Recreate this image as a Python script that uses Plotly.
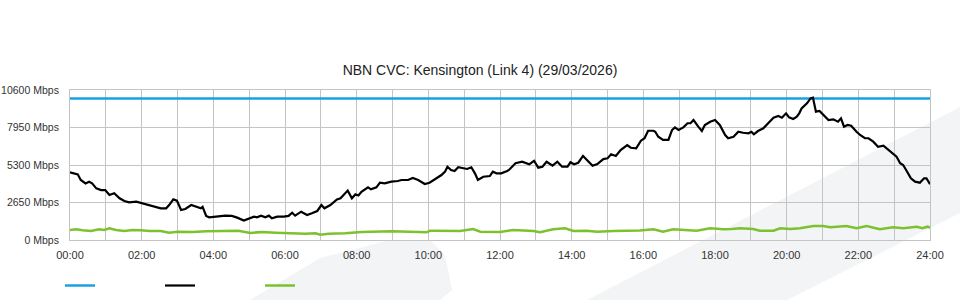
import plotly.graph_objects as go

# ---- data (minutes of day, Mbps) ----
capacity_t = [0, 1440]
capacity_v = [10000, 10000]

down_t = [0, 13, 18, 26, 32, 37, 44, 52, 59, 66, 74, 83, 91, 99, 111, 122, 133, 144, 152, 161,
          166, 173, 179, 186, 193, 203, 211, 219, 222, 228, 233, 243, 249, 260, 271, 280, 291, 299,
          308, 313, 320, 327, 333, 338, 347, 358, 366, 372, 377, 387, 397, 405, 414, 421, 426, 436,
          447, 453, 458, 465, 472, 478, 483, 488, 499, 504, 513, 519, 527, 538, 549, 555, 566, 574,
          583, 594, 602, 613, 622, 628, 632, 638, 644, 650, 658, 665, 672, 678, 683, 692, 703, 708,
          714, 722, 732, 735, 746, 757, 769, 777, 784, 791, 798, 808, 816, 824, 833, 838, 844, 851,
          859, 866, 875, 883, 893, 900, 906, 914, 922, 933, 939, 948, 956, 962, 968, 977, 980, 985,
          993, 1002, 1008, 1013, 1019, 1027, 1034, 1039, 1044, 1052, 1058, 1063, 1072, 1080, 1088,
          1097, 1102, 1111, 1119, 1127, 1136, 1141, 1145, 1152, 1161, 1169, 1178, 1186, 1192, 1199,
          1204, 1211, 1217, 1221, 1225, 1234, 1240, 1244, 1249, 1255, 1262, 1270, 1278, 1286, 1291,
          1296, 1302, 1308, 1317, 1323, 1331, 1337, 1345, 1353, 1362, 1370, 1378, 1384, 1390, 1395,
          1401, 1408, 1415, 1423, 1430, 1434, 1440]
down_v = [4780, 4640, 4240, 4000, 4120, 4000, 3650, 3530, 3530, 3180, 3300, 2950, 2760, 2660, 2710,
          2590, 2470, 2350, 2240, 2240, 2470, 2870, 2780, 2120, 2190, 2470, 2350, 2240, 2350, 1700,
          1600, 1650, 1700, 1720, 1700, 1580, 1370, 1480, 1650, 1600, 1720, 1600, 1720, 1530, 1650,
          1650, 1700, 1930, 1720, 2000, 1770, 1890, 2050, 2470, 2240, 2470, 2870, 2950, 3180, 3490,
          2950, 3230, 3150, 3410, 3720, 3580, 3720, 4050, 4000, 4120, 4170, 4240, 4240, 4380, 4240,
          3960, 4050, 4360, 4590, 4830, 5180, 4950, 4880, 5140, 5070, 5020, 5140, 4710, 4240, 4470,
          4520, 4830, 4710, 4710, 4880, 4950, 5420, 5530, 5350, 5600, 5110, 5180, 5530, 5250, 5530,
          5180, 5180, 5490, 5350, 5460, 5940, 5650, 5250, 5370, 5720, 5770, 6060, 5940, 6360, 6710,
          6520, 6480, 7020, 7190, 7720, 7720, 7650, 7300, 7070, 7070, 7770, 7960, 7770, 7960, 8250,
          8250, 8480, 8010, 7700, 8130, 8360, 8480, 8130, 7420, 7190, 7300, 7650, 7580, 7540, 7650,
          7470, 7700, 7890, 8250, 8640, 8760, 8640, 8950, 8670, 8550, 8710, 8950, 9300, 9660, 10010,
          10060, 9070, 9120, 8830, 8480, 8530, 8360, 8600, 8010, 8130, 8080, 7650, 7420, 7190, 7190,
          6950, 6590, 6660, 6360, 6060, 5890, 5420, 5300, 4880, 4360, 4120, 4050, 4360, 4360, 3940]

up_t = [0, 10, 21, 35, 49, 57, 66, 77, 91, 105, 119, 133, 152, 166, 180, 205, 228, 243, 260, 282,
        302, 321, 344, 372, 394, 411, 419, 433, 461, 488, 530, 539, 597, 603, 653, 675, 687, 720,
        742, 776, 787, 809, 829, 843, 865, 882, 910, 932, 954, 977, 993, 1010, 1033, 1049, 1072,
        1094, 1108, 1122, 1144, 1155, 1178, 1189, 1206, 1222, 1245, 1261, 1273, 1300, 1317, 1334,
        1356, 1378, 1395, 1418, 1427, 1436, 1440]
up_v = [707, 756, 685, 636, 756, 707, 827, 707, 636, 707, 685, 636, 636, 516, 587, 565, 615, 636,
        636, 657, 500, 565, 516, 473, 440, 473, 380, 440, 473, 565, 565, 615, 540, 657, 636, 777,
        587, 565, 707, 636, 544, 756, 827, 636, 657, 587, 636, 636, 670, 756, 587, 756, 707, 657,
        827, 756, 777, 827, 777, 657, 657, 827, 777, 827, 989, 989, 898, 989, 827, 989, 756, 898,
        827, 940, 827, 940, 869]

x_tickvals = list(range(0, 1441, 120))
x_ticktext = ["%02d:00" % (v // 60) for v in x_tickvals]
y_tickvals = [0, 2650, 5300, 7950, 10600]
y_ticktext = ["%d Mbps" % v for v in y_tickvals]

title_text = "NBN CVC: Kensington (Link 4) (29/03/2026)"

# ---- figure ----
W, H = 960, 300
L, R, T, B = 70, 30, 90, 60
pw, ph = W - L - R, H - T - B


def px(xp, yp):
    return (xp - L) / pw, (H - B - yp) / ph


def poly(points):
    pts = [px(a, b) for a, b in points]
    return "M " + " L ".join("%.4f,%.4f" % p for p in pts) + " Z"


fig = go.Figure()
fig.add_trace(go.Scatter(x=capacity_t, y=capacity_v, mode="lines", name="",
                         line=dict(color="#1ba1e2", width=2.5)))
fig.add_trace(go.Scatter(x=down_t, y=down_v, mode="lines", name="",
                         line=dict(color="#000000", width=2.2)))
fig.add_trace(go.Scatter(x=up_t, y=up_v, mode="lines", name="",
                         line=dict(color="#7dc12f", width=2.5)))

wm = "#f3f4f6"
fig.update_layout(
    width=W, height=H,
    margin=dict(l=L, r=R, t=T, b=B, autoexpand=False),
    paper_bgcolor="white",
    plot_bgcolor="rgba(0,0,0,0)",
    font=dict(family="Liberation Sans, Arial, sans-serif", size=11, color="#333333"),
    title=dict(text=title_text, x=0.5, xref="container", xanchor="center",
               y=1 - 70 / H, yref="container", yanchor="middle",
               font=dict(size=14, color="#222222")),
    showlegend=True,
    legend=dict(orientation="h", xref="container", yref="container",
                x=60 / W, xanchor="left", y=1 - 285.5 / H, yanchor="middle",
                entrywidth=55, entrywidthmode="pixels", itemwidth=30,
                bgcolor="rgba(0,0,0,0)", font=dict(size=11)),
    shapes=[
        dict(type="path", xref="paper", yref="paper", layer="below", line=dict(width=0),
             fillcolor=wm,
             path=poly([(587, 300), (960, 107), (960, 213), (787, 300)])),
        dict(type="path", xref="paper", yref="paper", layer="below", line=dict(width=0),
             fillcolor=wm,
             path=poly([(250, 300), (320, 258), (390, 240), (430, 240), (445, 255), (452, 290),
                        (440, 300)])),
    ],
    hovermode=False,
)
fig.update_xaxes(range=[0, 1440], tickvals=x_tickvals, ticktext=x_ticktext, automargin=False,
                 showgrid=True, gridcolor="#c4c4c4", gridwidth=1,
                 minor=dict(dtick=60, tick0=0, showgrid=True, gridcolor="#c4c4c4", gridwidth=1),
                 showline=True, linecolor="#c4c4c4", mirror=True, zeroline=False,
                 ticks="", ticklabelstandoff=5, tickfont=dict(size=11, color="#333333"),
                 fixedrange=True)
fig.update_yaxes(range=[0, 10600], tickvals=y_tickvals, ticktext=y_ticktext, automargin=False,
                 showgrid=True, gridcolor="#c4c4c4", gridwidth=1,
                 showline=True, linecolor="#c4c4c4", mirror=True, zeroline=False,
                 ticks="", ticklabelstandoff=8, tickfont=dict(size=10.5, color="#333333"),
                 fixedrange=True)

fig.write_html("out.html")
